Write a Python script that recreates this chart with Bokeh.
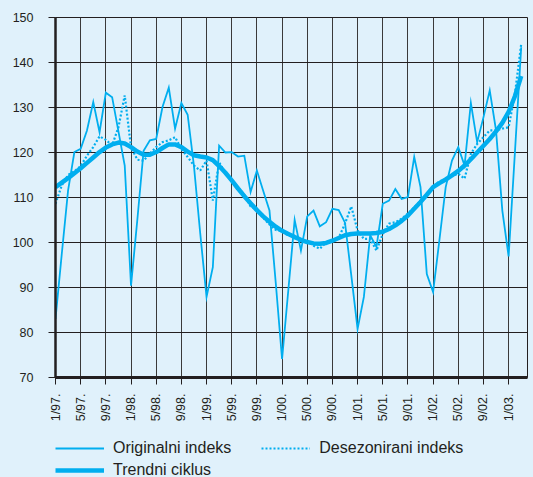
import math
from bokeh.plotting import figure
from bokeh.layouts import column
from bokeh.models import Range1d, FixedTicker, Legend, LegendItem
from bokeh.embed import file_html
from bokeh.resources import INLINE

# month index 0 = 1/97 ... 74 = 3/03
months = list(range(75))

original = [
    83.0, 97.5, 111.6, 120.1, 120.8, 124.9, 131.2, 124.5, 133.3, 132.3,
    124.7, 117.1, 90.4, 105.0, 120.4, 122.7, 123.0, 130.1, 134.4, 125.3,
    131.0, 128.4, 117.0, 102.0, 87.9, 94.5, 121.5, 120.0, 120.1, 119.1,
    119.3, 111.2, 116.0, 111.5, 107.1, 91.0, 74.1, 89.5, 105.0, 98.2,
    105.8, 107.1, 103.6, 104.5, 107.5, 107.2, 104.4, 92.7, 80.8, 87.9,
    101.6, 99.0, 108.6, 109.3, 111.9, 109.7, 110.1, 119.0, 112.3, 93.0,
    89.0, 100.5, 112.3, 118.2, 121.2, 117.1, 131.0, 122.3, 127.8, 133.8,
    124.9, 107.1, 96.9, 120.0, 143.4,
]

deseasonal = [
    108.6, 112.7, 115.0, 115.8, 117.0, 119.3, 121.2, 123.6, 122.8, 121.6,
    125.6, 132.7, 121.2, 118.4, 118.2, 119.8, 121.2, 122.3, 122.7, 123.4,
    120.8, 119.0, 117.1, 116.0, 118.2, 109.3, 117.8, 115.5, 113.5, 112.3,
    110.6, 108.0, 107.5, 105.5, 104.0, 102.8, 102.5, 101.5, 101.5, 100.2,
    100.3, 99.3, 98.6, 100.0, 100.4, 101.0, 104.2, 108.0, 102.7, 100.8,
    100.8, 98.2, 101.9, 104.2, 104.5, 105.3, 106.4, 107.8, 109.2, 110.8,
    112.3, 113.6, 114.0, 114.8, 115.3, 114.2, 119.7, 121.9, 123.4, 124.9,
    124.9, 125.3, 125.6, 133.0, 144.1,
]

trend = [
    112.3, 113.3, 114.3, 115.4, 116.5, 117.7, 118.9, 120.1, 121.1, 121.8,
    122.2, 122.0, 121.2, 120.2, 119.5, 119.5, 120.1, 121.0, 121.8, 121.8,
    121.2, 120.2, 119.4, 119.1, 118.9, 118.3, 117.0, 115.5, 113.8, 112.0,
    110.3, 108.7, 107.2, 105.8, 104.6, 103.5, 102.6, 101.9, 101.2, 100.6,
    100.1, 99.8, 99.7, 99.9, 100.4, 101.0, 101.6, 101.9, 102.0, 102.0,
    102.0, 102.1, 102.4, 103.0, 103.8, 104.8, 106.0, 107.5, 109.0, 110.6,
    112.3, 113.2, 114.0, 114.9, 115.9, 117.1, 118.5, 120.0, 121.5, 123.0,
    124.7, 126.6, 129.0, 132.5, 137.0,
]

tick_months = [0, 4, 8, 12, 16, 20, 24, 28, 32, 36, 40, 44, 48, 52, 56, 60, 64, 68, 72]
tick_labels = ["1/97.", "5/97.", "9/97.", "1/98.", "5/98.", "9/98.", "1/99.", "5/99.",
               "9/99.", "1/00.", "5/00.", "9/00.", "1/01.", "5/01.", "9/01.", "1/02.",
               "5/02.", "9/02.", "1/03."]
y_ticks = [70, 80, 90, 100, 110, 120, 130, 140, 150]
series_names = ["Originalni indeks", "Desezonirani indeks", "Trendni ciklus"]

BG = "#e0f1fb"
CYAN = "#00aeef"
INK = "#231f20"
FONT = "Liberation Sans"

orig_style = dict(line_color=CYAN, line_width=1.8, line_join="miter")
des_style = dict(line_color=CYAN, line_width=2.2, line_dash="2 2")
trend_style = dict(line_color=CYAN, line_width=4.5, line_join="round")

p = figure(width=533, height=427, x_range=Range1d(0, 75), y_range=Range1d(70, 150),
           output_backend="svg", toolbar_location=None,
           min_border_left=55, min_border_right=6, min_border_top=17, min_border_bottom=50,
           background_fill_color=BG, border_fill_color=BG,
           outline_line_color=INK, outline_line_width=1)
p.styles = {"background-color": BG}

p.xaxis.ticker = FixedTicker(ticks=tick_months)
p.xaxis.major_label_overrides = {m: l for m, l in zip(tick_months, tick_labels)}
p.xaxis.major_label_orientation = math.pi / 2
p.xaxis.major_label_standoff = 9
p.yaxis.ticker = FixedTicker(ticks=y_ticks)
p.yaxis.major_label_standoff = 15
for ax in (p.xaxis[0], p.yaxis[0]):
    ax.axis_line_color = INK
    ax.major_tick_line_color = INK
    ax.major_tick_out = 7
    ax.major_tick_in = 0
    ax.minor_tick_line_color = None
    ax.major_label_text_font = FONT
    ax.major_label_text_font_size = "12.5px"
    ax.major_label_text_color = INK
p.xaxis.axis_line_width = 3
p.yaxis.axis_line_width = 2.5

p.xgrid.ticker = FixedTicker(ticks=tick_months)
p.ygrid.ticker = FixedTicker(ticks=y_ticks)
p.xgrid.grid_line_color = "#3a3a3a"
p.ygrid.grid_line_color = INK
p.xgrid.grid_line_width = 1
p.ygrid.grid_line_width = 1

p.line(months, original, **orig_style)
p.line(months, deseasonal, **des_style)
p.line(months, trend, **trend_style)

# legend panel (separate figure below the chart, no axes; its y range
# lies far below the data so the series themselves are clipped away)
q = figure(width=533, height=50, x_range=Range1d(0, 75), y_range=Range1d(0, 1),
           output_backend="svg", toolbar_location=None,
           x_axis_location=None, y_axis_location=None,
           min_border_left=55, min_border_right=6, min_border_top=0, min_border_bottom=0,
           background_fill_color=BG, border_fill_color=BG, outline_line_color=None)
q.styles = {"background-color": BG}
q.grid.visible = False
l_o = q.line(months, original, **orig_style)
l_d = q.line(months, deseasonal, **des_style)
l_t = q.line(months, trend, **trend_style)

common = dict(orientation="horizontal", spacing=30, glyph_width=49, glyph_height=16,
              label_height=16, label_standoff=9, padding=0, margin=0,
              border_line_alpha=0, background_fill_alpha=0,
              label_text_font=FONT, label_text_font_size="16px", label_text_color=INK)
legend1 = Legend(items=[LegendItem(label=series_names[0], renderers=[l_o]),
                        LegendItem(label=series_names[1], renderers=[l_d])],
                 location=(0, 20), **common)
legend2 = Legend(items=[LegendItem(label=series_names[2], renderers=[l_t])],
                 location=(0, -2), **common)
q.add_layout(legend1)
q.add_layout(legend2)

layout = column(p, q, spacing=0)
layout.styles = {"position": "fixed", "left": "0px", "top": "0px", "background-color": BG}

open("out.html", "w").write(file_html(layout, INLINE))
